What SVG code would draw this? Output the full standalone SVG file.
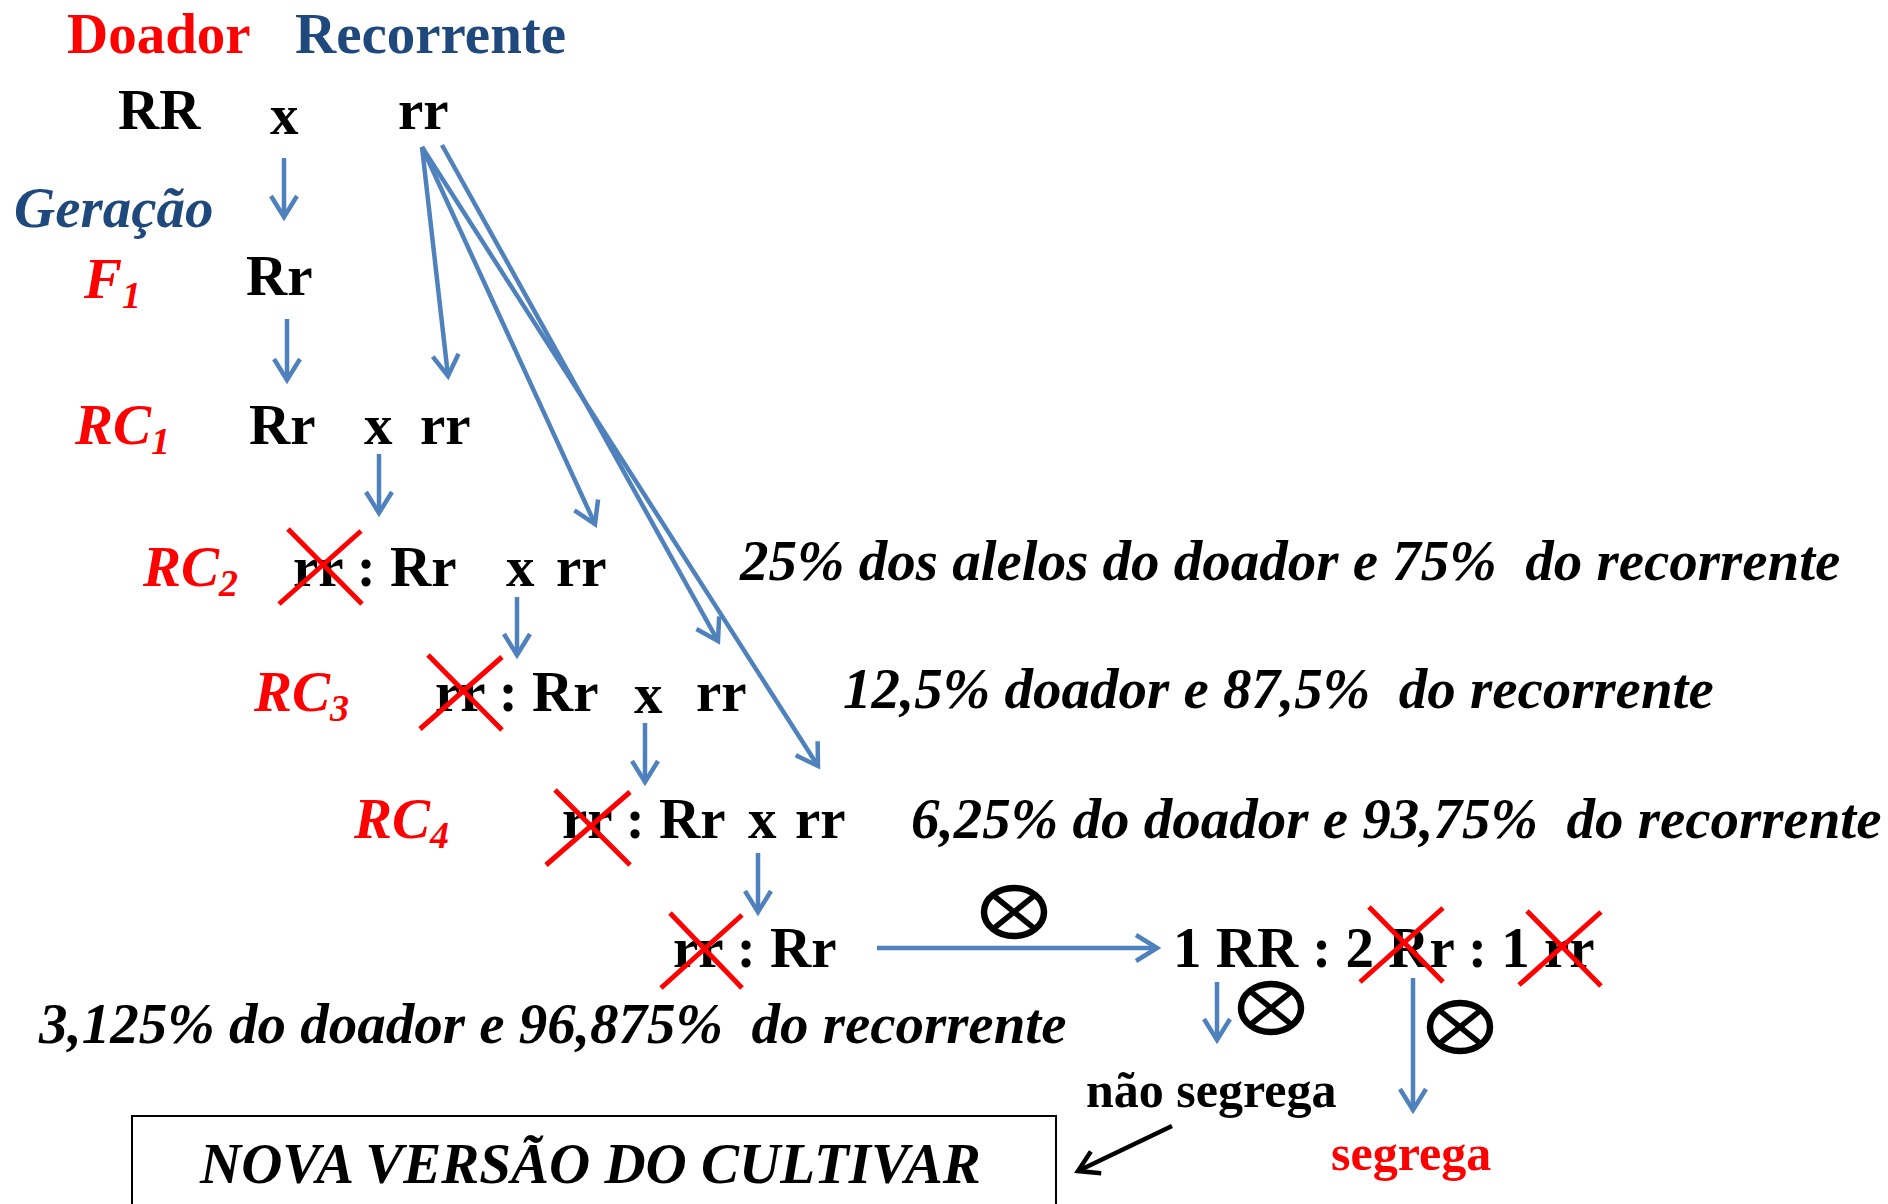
<svg xmlns="http://www.w3.org/2000/svg" width="1888" height="1204" viewBox="0 0 1888 1204">
<style>
.t{font-family:"Liberation Serif","Times New Roman",serif;font-weight:bold;font-size:57px;fill:#000;white-space:pre}
.i{font-style:italic}
.red{fill:#FF0000}
.navy{fill:#1F497D}
.sm{font-size:50px}
.sub{font-size:38px}
.conn line{stroke:#4F81BD;stroke-width:4.5;marker-end:url(#ah)}
.conn line.blk{stroke:#000;marker-end:url(#ahb)}
.cross line{stroke:#FF0000;stroke-width:5}
.ot ellipse{fill:none;stroke:#000;stroke-width:6.5}
.ot line{stroke:#000;stroke-width:5.5}
</style>
<defs>
<marker id="ah" markerUnits="userSpaceOnUse" viewBox="-28 -18 32 36" refX="0" refY="0" markerWidth="32" markerHeight="36" orient="auto">
<path d="M-21,-13 L0,0 L-21,13" fill="none" stroke="#4F81BD" stroke-width="4.5"/>
</marker>
<marker id="ahb" markerUnits="userSpaceOnUse" viewBox="-28 -18 32 36" refX="0" refY="0" markerWidth="32" markerHeight="36" orient="auto">
<path d="M-20,-12 L0,0 L-20,12" fill="none" stroke="#000" stroke-width="4.5"/>
</marker>
<g id="otimes" class="ot">
<ellipse cx="0" cy="0" rx="30" ry="24"/>
<line x1="-21" y1="-17" x2="21" y2="17"/>
<line x1="21" y1="-17" x2="-21" y2="17"/>
</g>
</defs>
<rect width="1888" height="1204" fill="#fff"/>

<g id="headers">
<text class="t red" x="67" y="53">Doador</text>
<text class="t navy" x="295" y="53">Recorrente</text>
<text class="t i navy" x="14" y="227">Geração</text>
</g>

<g id="parents">
<text class="t" x="118" y="129">RR</text>
<text class="t" x="270" y="134">x</text>
<text class="t" x="398" y="129">rr</text>
</g>

<g id="f1">
<text class="t i red" x="84" y="298">F<tspan class="sub" dy="10">1</tspan></text>
<text class="t" x="246" y="295">Rr</text>
</g>

<g id="rc1">
<text class="t i red" x="75" y="444">RC<tspan class="sub" dy="10">1</tspan></text>
<text class="t" x="249" y="444">Rr</text>
<text class="t" x="364" y="444">x</text>
<text class="t" x="420" y="444">rr</text>
</g>

<g id="rc2">
<text class="t i red" x="143" y="586">RC<tspan class="sub" dy="10">2</tspan></text>
<text class="t" x="293" y="586">rr : Rr</text>
<text class="t" x="506" y="586">x</text>
<text class="t" x="556" y="586">rr</text>
</g>

<g id="rc3">
<text class="t i red" x="254" y="711">RC<tspan class="sub" dy="10">3</tspan></text>
<text class="t" x="435" y="711">rr : Rr</text>
<text class="t" x="634" y="713">x</text>
<text class="t" x="696" y="711">rr</text>
</g>

<g id="rc4">
<text class="t i red" x="354" y="838">RC<tspan class="sub" dy="10">4</tspan></text>
<text class="t" x="562" y="838">rr : Rr</text>
<text class="t" x="748" y="838">x</text>
<text class="t" x="795" y="838">rr</text>
</g>

<g id="final">
<text class="t" x="673" y="967">rr : Rr</text>
</g>

<g id="selfing">
<text class="t" x="1173" y="967">1 RR : 2 Rr : 1 rr</text>
</g>

<g id="percentages">
<text class="t i" x="740" y="580">25% dos alelos do doador e 75%  do recorrente</text>
<text class="t i" x="843" y="708">12,5% doador e 87,5%  do recorrente</text>
<text class="t i" x="911" y="838">6,25% do doador e 93,75%  do recorrente</text>
<text class="t i" x="39" y="1043">3,125% do doador e 96,875%  do recorrente</text>
</g>

<g id="outcomes">
<text class="t sm" x="1086" y="1107">não segrega</text>
<text class="t sm red" x="1331" y="1170">segrega</text>
</g>

<g id="cultivar">
<rect x="132" y="1116" width="924" height="100" fill="none" stroke="#000" stroke-width="2"/>
<text class="t i" x="200" y="1183">NOVA VERSÃO DO CULTIVAR</text>
</g>

<g id="selfing-symbols">
<use href="#otimes" x="1014" y="912"/>
<use href="#otimes" x="1271" y="1008"/>
<use href="#otimes" x="1460" y="1027"/>
</g>

<g id="crosses" class="cross">
<line x1="288" y1="529" x2="362" y2="604"/><line x1="361" y1="531" x2="279" y2="604"/>
<line x1="428" y1="655" x2="502" y2="730"/><line x1="502" y1="657" x2="420" y2="729"/>
<line x1="555" y1="790" x2="630" y2="865"/><line x1="630" y1="792" x2="546" y2="865"/>
<line x1="670" y1="913" x2="742" y2="988"/><line x1="742" y1="915" x2="661" y2="988"/>
<line x1="1369" y1="907" x2="1443" y2="982"/><line x1="1443" y1="908" x2="1360" y2="982"/>
<line x1="1527" y1="911" x2="1601" y2="986"/><line x1="1601" y1="912" x2="1519" y2="985"/>
</g>

<g id="connectors" class="conn">
<line x1="284" y1="158" x2="284" y2="217"/>
<line x1="287" y1="319" x2="287" y2="380"/>
<line x1="379" y1="454" x2="379" y2="513"/>
<line x1="517" y1="597" x2="517" y2="655"/>
<line x1="645" y1="723" x2="645" y2="782"/>
<line x1="758" y1="853" x2="758" y2="912"/>
<line x1="422" y1="147" x2="448" y2="376"/>
<line x1="422" y1="147" x2="595" y2="524"/>
<line x1="442" y1="145" x2="718" y2="641"/>
<line x1="422" y1="147" x2="818" y2="766"/>
<line x1="877" y1="948" x2="1157" y2="948"/>
<line x1="1217" y1="982" x2="1217" y2="1040"/>
<line x1="1413" y1="978" x2="1413" y2="1110"/>
<line class="blk" x1="1172" y1="1126" x2="1078" y2="1171"/>
</g>
</svg>
